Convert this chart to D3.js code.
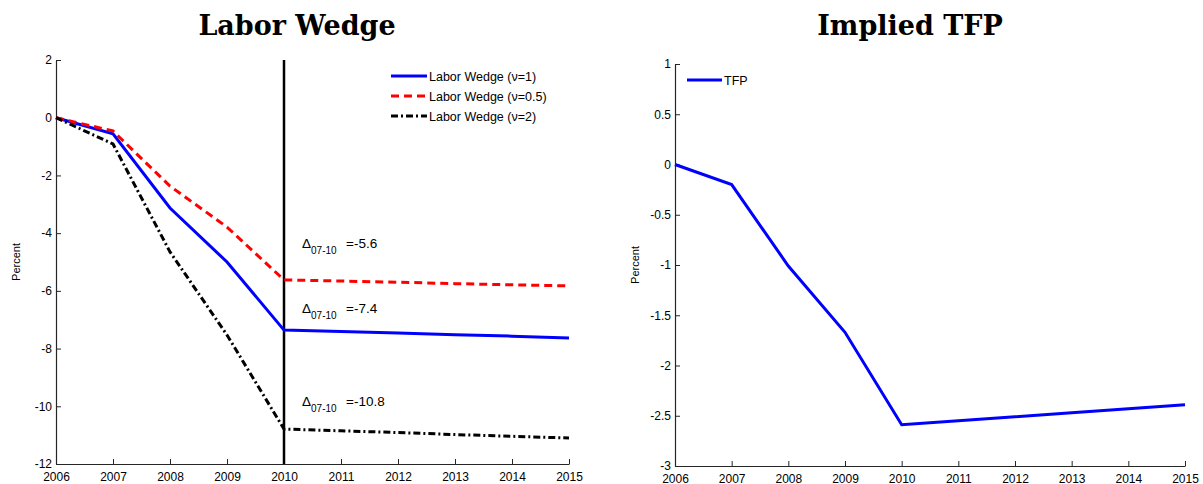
<!DOCTYPE html>
<html><head><meta charset="utf-8">
<script src="https://cdn.jsdelivr.net/npm/d3@7"></script>
<style>body{margin:0;background:#fff}svg{display:block}</style>
</head><body>
<svg id="c" width="1203" height="484"></svg>
<script>
const years = [2006,2007,2008,2009,2010,2011,2012,2013,2014,2015];
const wedgeNu1 = [0,-0.56,-3.13,-5.0,-7.36,-7.41,-7.46,-7.52,-7.57,-7.63];
const wedgeNu05 = [0,-0.46,-2.37,-3.79,-5.62,-5.66,-5.70,-5.75,-5.79,-5.83];
const wedgeNu2 = [0,-0.91,-4.65,-7.53,-10.79,-10.85,-10.91,-10.98,-11.04,-11.1];
const tfp = [0,-0.2,-1.01,-1.67,-2.59,-2.55,-2.51,-2.47,-2.43,-2.39];
const leftYTicks = [2,0,-2,-4,-6,-8,-10,-12];
const rightYTicks = [1,0.5,0,-0.5,-1,-1.5,-2,-2.5,-3];
const legendLabels = ["Labor Wedge (ν=1)","Labor Wedge (ν=0.5)","Labor Wedge (ν=2)"];
const deltaVals = ["-5.6","-7.4","-10.8"];
const deltaAt = [-5.62,-7.36,-10.79];

const svg = d3.select("#c");
const font = "'Liberation Sans', Arial, sans-serif";
const fmtNum = d => String(d);

function panel(x0,x1,y0,y1,dom,ticks){
  const x = d3.scaleLinear().domain([2006,2015]).range([x0,x1]);
  const y = d3.scaleLinear().domain(dom).range([y1,y0]);
  const g = svg.append("g");
  const ax = g.append("g").attr("transform",`translate(0,${y1})`)
    .call(d3.axisBottom(x).tickValues(years).tickFormat(fmtNum).tickSize(-5).tickSizeOuter(0));
  ax.selectAll("text").attr("dy","0").attr("y",16.5).style("font-family",font).style("font-size","12px").attr("fill","#000");
  const ay = g.append("g").attr("transform",`translate(${x0},0)`)
    .call(d3.axisLeft(y).tickValues(ticks).tickFormat(fmtNum).tickSize(-5).tickSizeOuter(0));
  ay.selectAll("text").attr("x",-4).style("font-family",font).style("font-size","12px").attr("fill","#000");
  [ax,ay].forEach(a=>{a.select(".domain").attr("stroke","#262626").attr("stroke-width",1.2);a.selectAll(".tick line").attr("stroke","#262626");});
  g.append("text").attr("transform",`translate(${x0-36},${(y0+y1)/2}) rotate(-90)`).attr("text-anchor","middle")
    .style("font-family",font).style("font-size","11px").text("Percent");
  return {x,y,g};
}

const titleFont = "'DejaVu Serif', 'Liberation Serif', serif";

// Left panel
const L = panel(56,569,60,464,[-12,2],leftYTicks);
svg.append("text").attr("x",297).attr("y",35).attr("text-anchor","middle")
  .style("font-family",titleFont).style("font-weight","bold").style("font-size","27px").text("Labor Wedge");
L.g.append("line").attr("x1",L.x(2010)).attr("x2",L.x(2010)).attr("y1",L.y(2)).attr("y2",L.y(-12)).attr("stroke","#000").attr("stroke-width",2.5);

const series = [
  {v:wedgeNu1,c:"#0000ff",d:null},
  {v:wedgeNu05,c:"#ff0000",d:"8,5"},
  {v:wedgeNu2,c:"#000000",d:"7,3,2,3"}
];
const lineL = d3.line().x((d,i)=>L.x(years[i])).y(d=>L.y(d));
series.forEach((s,k)=>{
  L.g.append("path").attr("d",lineL(s.v)).attr("fill","none").attr("stroke",s.c).attr("stroke-width",3)
    .attr("stroke-dasharray",s.d);
  const ly = 76+20*k;
  L.g.append("line").attr("x1",391).attr("x2",427).attr("y1",ly).attr("y2",ly).attr("stroke",s.c).attr("stroke-width",3).attr("stroke-dasharray",s.d);
  L.g.append("text").attr("x",429).attr("y",ly+4.5).style("font-family",font).style("font-size","12.5px").text(legendLabels[k]);
});
// annotations
const annOff = [-32,-17,-23];
[0,1,2].forEach(k=>{
  const yy = L.y(deltaAt[k])+annOff[k];
  const t = L.g.append("text").attr("x",302).attr("y",yy).style("font-family",font).style("font-size","13.5px");
  t.append("tspan").text("Δ");
  t.append("tspan").attr("dy",6).style("font-size","10px").text("07-10");
  L.g.append("text").attr("x",346).attr("y",yy).style("font-family",font).style("font-size","13.5px").text("=" + deltaVals[k]);
});

// Right panel
const R = panel(675,1185,64,466,[-3,1],rightYTicks);
svg.append("text").attr("x",910).attr("y",35).attr("text-anchor","middle")
  .style("font-family",titleFont).style("font-weight","bold").style("font-size","27px").text("Implied TFP");
const lineR = d3.line().x((d,i)=>R.x(years[i])).y(d=>R.y(d));
R.g.append("path").attr("d",lineR(tfp)).attr("fill","none").attr("stroke","#0000ff").attr("stroke-width",3);
R.g.append("line").attr("x1",687).attr("x2",722).attr("y1",80).attr("y2",80).attr("stroke","#0000ff").attr("stroke-width",3);
R.g.append("text").attr("x",724).attr("y",84.5).style("font-family",font).style("font-size","12.5px").text("TFP");
</script>
</body></html>
